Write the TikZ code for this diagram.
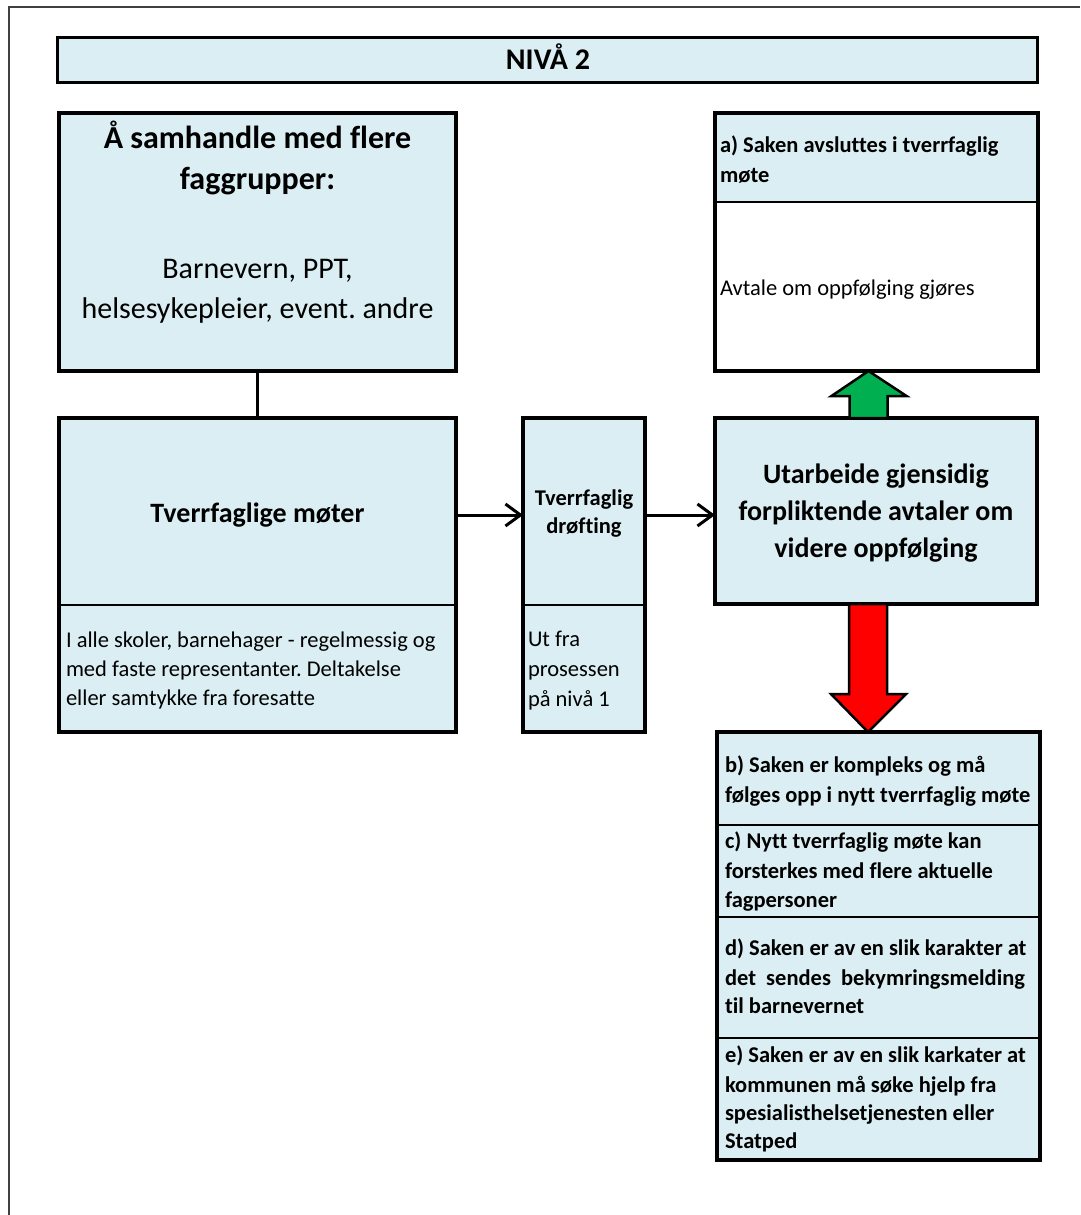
\documentclass[tikz,border=0pt]{standalone}
\usepackage{fontspec}
\setmainfont{Carlito}[Ligatures=NoCommon]
\usetikzlibrary{arrows.meta,calc}
\definecolor{lblue}{HTML}{DAEEF3}
\definecolor{agreen}{HTML}{00B050}
\definecolor{ared}{HTML}{FF0000}
\definecolor{framegray}{HTML}{404040}
\newcommand\myfs[1]{\fontsize{#1}{#1}\selectfont}
\frenchspacing
\tikzset{
  boxnode/.style={draw=black, fill=lblue, line width=3.5pt, inner sep=0pt, outer sep=0pt, anchor=north west},
  divider/.style={draw=black, line width=2pt},
  lbl/.style={inner sep=0pt, outer sep=0pt, text=black},
  lc/.style={lbl, anchor=base},
  ll/.style={lbl, anchor=base west},
  bigbold/.style={font=\myfs{32}\bfseries},
  bigreg/.style={font=\myfs{30}},
  midbold/.style={font=\myfs{28}\bfseries},
  smbold/.style={font=\myfs{22.5}\bfseries},
  smreg/.style={font=\myfs{22.5}},
  flow/.style={draw=black, line width=3pt, -{Straight Barb[length=15pt,width=22pt,line width=3pt]}},
  blockarrow/.style={draw=black, line width=2.5pt, line join=miter},
}
\begin{document}
\begin{tikzpicture}[x=1pt,y=-1pt]
\useasboundingbox (0,0) rectangle (1080,1215);
\fill[white] (0,0) rectangle (1080,1215);
% frame
\draw[framegray, line width=2pt] (8.5,1215) -- (8.5,7.5) -- (1080,7.5);

% title bar
\node[boxnode, line width=3pt, minimum width=980pt, minimum height=44pt] (title) at (57,38) {};
\node[lc, font=\myfs{30}\bfseries] (ttitle) at (548,70) {NIVÅ 2};

% box 1
\node[boxnode, line width=4pt, minimum width=397pt, minimum height=258pt] (box1) at (59,113) {};
\node[lc, bigbold] (t1a) at (257.5,148) {Å samhandle med flere};
\node[lc, bigbold] (t1b) at (257.5,189) {faggrupper:};
\node[lc, bigreg] (t1c) at (257.5,278) {Barnevern, PPT,};
\node[lc, bigreg] (t1d) at (257.5,318) {helsesykepleier, event. andre};

% box 2
\node[boxnode, line width=4pt, minimum width=397pt, minimum height=314pt] (box2) at (59,418) {};
\draw[divider] (59,605) -- (456,605);
\node[lc, midbold] (t2a) at (257.5,522) {Tverrfaglige møter};
\node[ll, smreg] (t2b) at (66,647) {I alle skoler, barnehager - regelmessig og};
\node[ll, smreg] (t2c) at (66,676) {med faste representanter. Deltakelse};
\node[ll, smreg] (t2d) at (66,705) {eller samtykke fra foresatte};

% box 3
\node[boxnode, line width=3.5pt, minimum width=122pt, minimum height=314pt] (box3) at (523,418) {};
\draw[divider] (523,605) -- (645,605);
\node[lc, smbold] (t3a) at (584,505) {Tverrfaglig};
\node[lc, smbold] (t3b) at (584,533) {drøfting};
\node[ll, smreg] (t3c) at (528,646) {Ut fra};
\node[ll, smreg] (t3d) at (528,676) {prosessen};
\node[ll, smreg] (t3e) at (528,706) {på nivå 1};

% box 4
\node[boxnode, line width=3.5pt, minimum width=322pt, minimum height=186pt] (box4) at (715,418) {};
\node[lc, midbold] (t4a) at (876,483) {Utarbeide gjensidig};
\node[lc, midbold] (t4b) at (876,520) {forpliktende avtaler om};
\node[lc, midbold] (t4c) at (876,557) {videre oppfølging};

% box a
\fill[white] (715,113) rectangle (1038,371);
\fill[lblue] (715,113) rectangle (1038,202);
\draw[divider] (715,202) -- (1038,202);
\node[boxnode, fill=none, line width=3.5pt, minimum width=323pt, minimum height=258pt] (boxa) at (715,113) {};
\node[ll, smbold] (ta1) at (720,152) {a) Saken avsluttes i tverrfaglig};
\node[ll, smbold] (ta2) at (720,182) {møte};
\node[ll, smreg] (ta3) at (720,295) {Avtale om oppfølging gjøres};

% box b-e
\node[boxnode, line width=4pt, minimum width=323pt, minimum height=428pt] (boxb) at (717,732) {};
\draw[divider] (717,825) -- (1040,825);
\draw[divider] (717,917) -- (1040,917);
\draw[divider] (717,1038) -- (1040,1038);
\node[ll, smbold] (tb1) at (725,772) {b) Saken er kompleks og må};
\node[ll, smbold] (tb2) at (725,802) {følges opp i nytt tverrfaglig møte};
\node[ll, smbold] (tc1) at (725,848) {c) Nytt tverrfaglig møte kan};
\node[ll, smbold] (tc2) at (725,878) {forsterkes med flere aktuelle};
\node[ll, smbold] (tc3) at (725,907) {fagpersoner};
\node[ll, smbold] (td1) at (725,955) {d) Saken er av en slik karakter at};
\node[ll, smbold] (td2) at (725,985) {det\ \ sendes\ \ bekymringsmelding};
\node[ll, smbold] (td3) at (725,1013) {til barnevernet};
\node[ll, smbold] (te1) at (725,1062) {e) Saken er av en slik karkater at};
\node[ll, smbold] (te2) at (725,1092) {kommunen må søke hjelp fra};
\node[ll, smbold] (te3) at (725,1120) {spesialisthelsetjenesten eller};
\node[ll, smbold] (te4) at (725,1148) {Statped};

% connectors
\draw[line width=3.5pt] (box1.south) -- (box2.north);
\draw[flow] (box2.north east) ++(0,97) coordinate (s1) -- (s1 -| box3.west);
\draw[flow] (box3.north east) ++(0,97) coordinate (s2) -- (s2 -| box4.west);

% green arrow (up)
\draw[blockarrow, fill=agreen] ($(boxa.south)+(-8,0)$) -- ++(38,25) -- ++(-19,0) -- ++(0,22) -- ++(-38,0) -- ++(0,-22) -- ++(-18,0) -- cycle;
% red arrow (down)
\draw[blockarrow, fill=ared] ($(box4.south)+(-27,0)$) -- ++(38,0) -- ++(0,90) -- ++(19,0) -- ++(-38,38) -- ++(-37,-38) -- ++(18,0) -- cycle;
\end{tikzpicture}
\end{document}
